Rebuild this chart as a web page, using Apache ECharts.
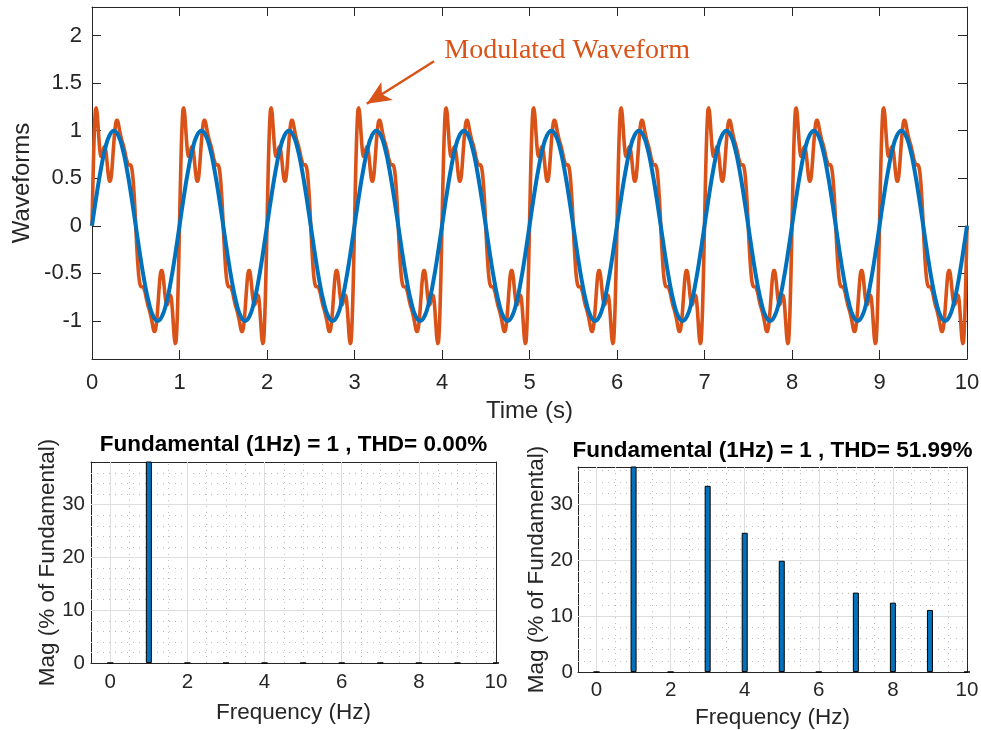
<!DOCTYPE html>
<html>
<head>
<meta charset="utf-8">
<script src="https://cdn.jsdelivr.net/npm/echarts@6/dist/echarts.min.js"></script>
<style>
  html, body { margin: 0; padding: 0; background: #fff; }
  #chart { width: 981px; height: 730px; }
</style>
</head>
<body>
<div id="chart"></div>
<script>
// one 1 s period of each waveform (the picture repeats it 10 times)
const cycles = 10
// pure sine, sampled every 0.05 s
const sineSamples = [
  0, 0.309, 0.588, 0.809, 0.951, 1, 0.951, 0.809, 0.588, 0.309,
  0, -0.309, -0.588, -0.809, -0.951, -1, -0.951, -0.809, -0.588, -0.309
]
// modulated waveform, sampled every 0.01 s
const modulatedSamples = [
  0, 0.43, 0.80, 1.07, 1.22, 1.24, 1.17, 1.04, 0.90, 0.79,
  0.73, 0.73, 0.76, 0.80, 0.83, 0.82, 0.77, 0.69, 0.59, 0.51,
  0.47, 0.47, 0.52, 0.62, 0.75, 0.88, 0.99, 1.07, 1.11, 1.11,
  1.08, 1.03, 0.98, 0.94, 0.90, 0.87, 0.84, 0.80, 0.76, 0.71,
  0.68, 0.65, 0.64, 0.64, 0.64, 0.62, 0.57, 0.48, 0.35, 0.19,
  0, -0.19, -0.35, -0.48, -0.57, -0.62, -0.64, -0.64, -0.64, -0.65,
  -0.68, -0.71, -0.76, -0.80, -0.84, -0.87, -0.90, -0.94, -0.98, -1.03,
  -1.08, -1.11, -1.11, -1.07, -0.99, -0.88, -0.75, -0.62, -0.52, -0.47,
  -0.47, -0.51, -0.59, -0.69, -0.77, -0.82, -0.83, -0.80, -0.76, -0.73,
  -0.73, -0.79, -0.90, -1.04, -1.17, -1.24, -1.22, -1.07, -0.80, -0.43
]

// spectra (% of fundamental)
const harmonicFreqs = [0, 1, 2, 3, 4, 5, 6, 7, 8, 9, 10]
const sineSpectrum = [0, 100, 0, 0, 0, 0, 0, 0, 0, 0, 0]
const modulatedSpectrum = [0, 100, 0, 33.3, 24.9, 19.9, 0, 14.2, 12.4, 11.1, 0]

// tick values
const timeTicks = [0, 1, 2, 3, 4, 5, 6, 7, 8, 9, 10]
const waveTicks = [-1, -0.5, 0, 0.5, 1, 1.5, 2]
const freqTicks = [0, 2, 4, 6, 8, 10]
const magTicks = [0, 10, 20, 30]
const freqGrid = [0, 2, 4, 6, 8]
const magGrid = [10, 20, 30]
const freqMinor = [0.5, 1, 1.5, 2.5, 3, 3.5, 4.5, 5, 5.5, 6.5, 7, 7.5, 8.5, 9, 9.5]
const magMinor = [2, 4, 6, 8, 12, 14, 16, 18, 22, 24, 26, 28, 32, 34, 36]

const font = "'Liberation Sans', Arial, Helvetica, sans-serif"
const axisColor = '#262626'
const blue = '#0072BD'
const orange = '#D95319'

// repeat one period over the whole time span
const tile = (samples) => {
  const pts = []
  for (let c = 0; c < cycles; c++) {
    samples.forEach((v, i) => pts.push([c + i / samples.length, v]))
  }
  pts.push([cycles, samples[0]])
  return pts
}

// one side of an axes box (MATLAB style: ticks inside, on all four sides)
const boxAxis = (o) => ({
  type: 'value',
  gridIndex: o.grid,
  position: o.position,
  min: o.min,
  max: o.max,
  axisLine: { show: true, onZero: false, lineStyle: { color: axisColor, width: 1 } },
  axisTick: { show: true, inside: true, length: o.tickLen, customValues: o.ticks, lineStyle: { color: axisColor } },
  axisLabel: {
    show: !!o.labels, customValues: o.ticks, color: axisColor,
    fontSize: o.fontSize, fontFamily: font, margin: o.margin || 8
  },
  splitLine: { show: false },
  name: o.name || '',
  nameLocation: 'middle',
  nameGap: o.nameGap || 0,
  nameMoveOverlap: false,
  nameTextStyle: Object.assign({ color: axisColor, fontFamily: font, fontSize: o.nameSize || 22 }, o.nameStyle || {})
})

const gridLines = (xMajor, yMajor, xMinor, yMinor) => {
  const major = { color: '#dedede', width: 1, type: 'solid' }
  const minor = { color: '#bdbdbd', width: 1, type: [1, 5] }
  return {
    silent: true,
    symbol: ['none', 'none'],
    label: { show: false },
    animation: false,
    z: 1,
    data: [
      ...xMinor.map(v => ({ xAxis: v, lineStyle: minor })),
      ...yMinor.map(v => ({ yAxis: v, lineStyle: minor })),
      ...xMajor.map(v => ({ xAxis: v, lineStyle: major })),
      ...yMajor.map(v => ({ yAxis: v, lineStyle: major }))
    ]
  }
}

const chart = echarts.init(document.getElementById('chart'), null, { renderer: 'canvas' })

chart.setOption({
  animation: false,
  backgroundColor: '#fff',
  textStyle: { fontFamily: font },
  grid: [
    { left: 92, top: 7, width: 875, height: 352, outerBoundsMode: 'none' },
    { left: 91, top: 462, width: 405, height: 201, outerBoundsMode: 'none' },
    { left: 578, top: 467, width: 389, height: 205, outerBoundsMode: 'none' }
  ],
  xAxis: [
    boxAxis({ grid: 0, position: 'bottom', min: 0, max: 10, ticks: timeTicks, tickLen: 9, labels: true,
      fontSize: 22, margin: 13, name: 'Time (s)', nameGap: 40, nameSize: 24 }),
    boxAxis({ grid: 0, position: 'top', min: 0, max: 10, ticks: timeTicks, tickLen: 9 }),
    boxAxis({ grid: 1, position: 'bottom', min: -0.5, max: 10, ticks: freqTicks, tickLen: 4, labels: true,
      fontSize: 20.5, margin: 9, name: 'Frequency (Hz)', nameGap: 38, nameSize: 22.5 }),
    boxAxis({ grid: 1, position: 'top', min: -0.5, max: 10, ticks: freqTicks, tickLen: 4,
      name: 'Fundamental (1Hz) = 1 , THD= 0.00%', nameGap: 6, nameSize: 22.5,
      nameStyle: { color: '#000', fontWeight: 'bold' } }),
    boxAxis({ grid: 2, position: 'bottom', min: -0.5, max: 10, ticks: freqTicks, tickLen: 4, labels: true,
      fontSize: 20.5, margin: 8, name: 'Frequency (Hz)', nameGap: 34, nameSize: 22.5 }),
    boxAxis({ grid: 2, position: 'top', min: -0.5, max: 10, ticks: freqTicks, tickLen: 4,
      name: 'Fundamental (1Hz) = 1 , THD= 51.99%', nameGap: 5, nameSize: 22.5,
      nameStyle: { color: '#000', fontWeight: 'bold' } })
  ],
  yAxis: [
    boxAxis({ grid: 0, position: 'left', min: -1.4, max: 2.3, ticks: waveTicks, tickLen: 9, labels: true,
      fontSize: 22, margin: 10, name: 'Waveforms', nameGap: 58, nameSize: 24 }),
    boxAxis({ grid: 0, position: 'right', min: -1.4, max: 2.3, ticks: waveTicks, tickLen: 9 }),
    boxAxis({ grid: 1, position: 'left', min: 0, max: 38.1, ticks: magTicks, tickLen: 4, labels: true,
      fontSize: 20.5, margin: 6, name: 'Mag (% of Fundamental)', nameGap: 32, nameSize: 22.5 }),
    boxAxis({ grid: 1, position: 'right', min: 0, max: 38.1, ticks: magTicks, tickLen: 4 }),
    boxAxis({ grid: 2, position: 'left', min: 0, max: 36.67, ticks: magTicks, tickLen: 4, labels: true,
      fontSize: 20.5, margin: 5, name: 'Mag (% of Fundamental)', nameGap: 30, nameSize: 22.5 }),
    boxAxis({ grid: 2, position: 'right', min: 0, max: 36.67, ticks: magTicks, tickLen: 4 })
  ],
  series: [
    {
      name: 'Modulated',
      type: 'line',
      xAxisIndex: 0,
      yAxisIndex: 0,
      data: tile(modulatedSamples),
      showSymbol: false,
      smooth: 0.25,
      lineStyle: { color: orange, width: 3.6 },
      itemStyle: { color: orange },
      z: 2,
      markLine: {
        silent: true,
        symbol: ['none', 'arrow'],
        symbolSize: [16, 24],
        label: { show: false },
        lineStyle: { color: orange, width: 2.5, type: 'solid' },
        data: [[{ coord: [3.909, 1.73] }, { coord: [3.14, 1.283] }]]
      },
      markPoint: {
        silent: true,
        symbol: 'circle',
        symbolSize: 1,
        itemStyle: { color: 'rgba(0,0,0,0)' },
        label: {
          show: true, position: 'right', distance: 0,
          formatter: 'Modulated Waveform',
          color: orange, fontSize: 28,
          fontFamily: "'Liberation Serif', 'Times New Roman', serif"
        },
        data: [{ coord: [4.02, 1.84] }]
      }
    },
    {
      name: 'Sine',
      type: 'line',
      xAxisIndex: 0,
      yAxisIndex: 0,
      data: tile(sineSamples),
      showSymbol: false,
      smooth: true,
      lineStyle: { color: blue, width: 4 },
      itemStyle: { color: blue },
      z: 3
    },
    {
      type: 'line', xAxisIndex: 2, yAxisIndex: 2, data: [],
      markLine: gridLines(freqGrid, magGrid, freqMinor, magMinor)
    },
    {
      type: 'bar',
      xAxisIndex: 2,
      yAxisIndex: 2,
      data: harmonicFreqs.map((f, i) => [f, sineSpectrum[i]]),
      barWidth: 6,
      itemStyle: { color: blue, borderColor: '#000', borderWidth: 1 },
      z: 3
    },
    {
      type: 'line', xAxisIndex: 4, yAxisIndex: 4, data: [],
      markLine: gridLines(freqGrid, magGrid, freqMinor, magMinor)
    },
    {
      type: 'bar',
      xAxisIndex: 4,
      yAxisIndex: 4,
      data: harmonicFreqs.map((f, i) => [f, modulatedSpectrum[i]]),
      barWidth: 6,
      itemStyle: { color: blue, borderColor: '#000', borderWidth: 1 },
      z: 3
    }
  ]
})
</script>
</body>
</html>
